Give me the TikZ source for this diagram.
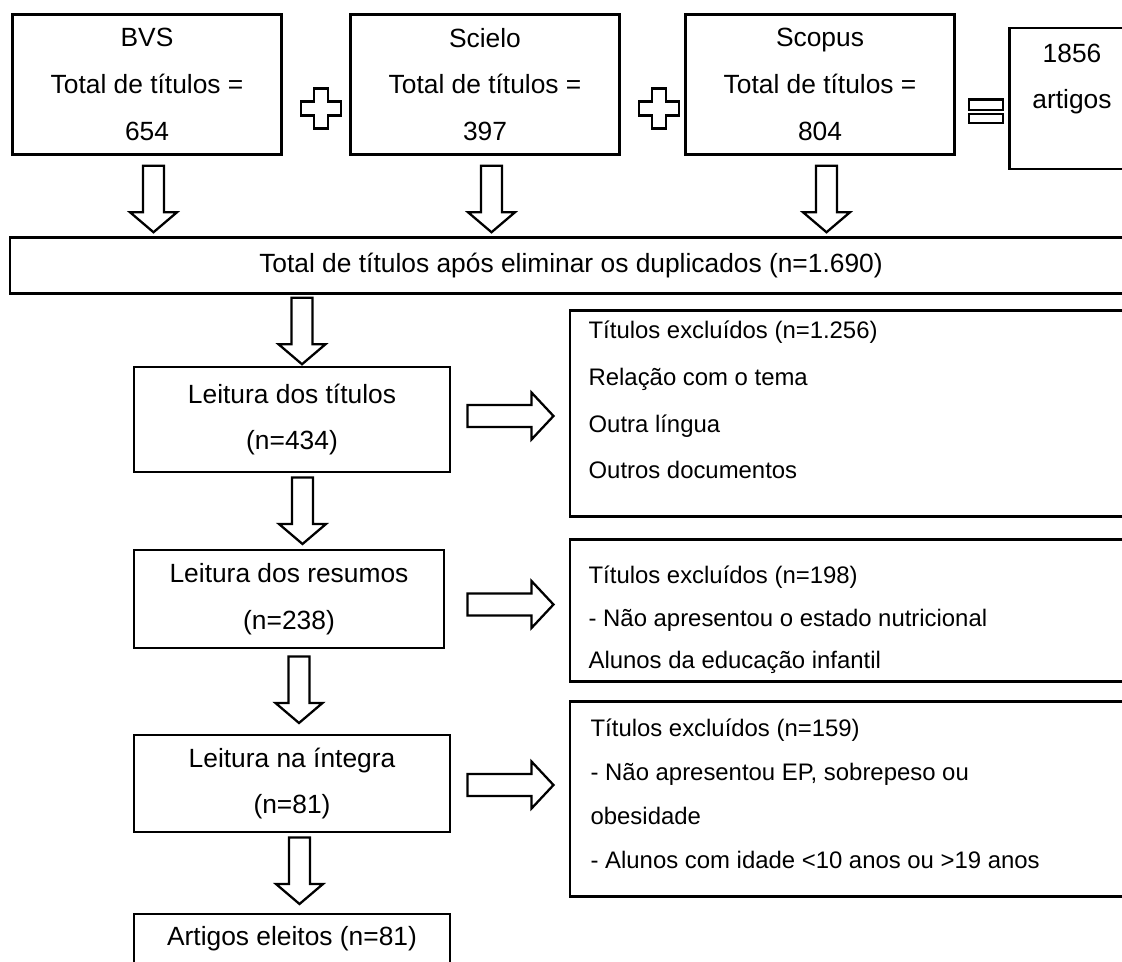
\documentclass[tikz,border=0pt]{standalone}
\usepackage{fontspec}
\setmainfont{Liberation Sans}
\usetikzlibrary{calc}
\tikzset{
  box/.style={draw, line width=1.4pt, align=center, inner sep=0pt, font=\fontsize{15}{26.7}\selectfont},
  fonte/.style={box, minimum width=5.38cm, minimum height=2.80cm},
  etapa/.style={box, minimum height=2.0cm},
  exclusao/.style={draw, line width=1.4pt, inner sep=0pt, minimum width=11.6cm},
  txt/.style={align=left, inner sep=0pt, anchor=north west},
  blk/.style={draw, line width=1.3pt, line join=miter, fill=white},
}
% seta larga para baixo e para a direita
\newcommand{\dnblk}[1]{\draw[blk] #1 ++(-0.21,0) -- ++(0,-0.93) -- ++(-0.26,0) -- ++(0.47,-0.40) -- ++(0.47,0.40) -- ++(-0.26,0) -- ++(0,0.93) -- cycle;}
\newcommand{\rtblk}[1]{\draw[blk] #1 ++(0,0.22) -- ++(1.28,0) -- ++(0,0.25) -- ++(0.44,-0.47) -- ++(-0.44,-0.47) -- ++(0,0.25) -- ++(-1.28,0) -- cycle;}
\newcommand{\maisblk}[1]{\draw[blk] #1 ++(-0.14,0.40) -- ++(0.28,0) -- ++(0,-0.26) -- ++(0.26,0) -- ++(0,-0.28) -- ++(-0.26,0) -- ++(0,-0.26) -- ++(-0.28,0) -- ++(0,0.26) -- ++(-0.26,0) -- ++(0,0.28) -- ++(0.26,0) -- cycle;}
\begin{document}
\begin{tikzpicture}
\useasboundingbox (0,0) rectangle (22.44,-19.22);
\clip (0,0) rectangle (22.44,-19.22);

% bases de dados
\node[fonte] (bvs) at (2.94,-1.69) {BVS\\Total de títulos =\\654};
\node[fonte] (scielo) at (9.70,-1.69) {Scielo\\Total de títulos =\\397};
\node[fonte] (scopus) at (16.40,-1.69) {Scopus\\Total de títulos =\\804};
\node[box, minimum width=2.50cm, minimum height=2.83cm] (soma) at (21.44,-1.97) {};
\node[box, draw=none] (somat) at ($(soma.center)+(0,0.39)$) {1856\\artigos};

\coordinate (mais1) at (6.42,-2.17);
\coordinate (mais2) at (13.18,-2.17);
\maisblk{(mais1)}
\maisblk{(mais2)}
\draw[blk] (19.38,-1.99) rectangle (20.06,-2.20);
\draw[blk] (19.38,-2.28) rectangle (20.06,-2.46);

\node[box, minimum width=22.45cm, minimum height=1.12cm] (total) at (11.42,-5.31) {Total de títulos após eliminar os duplicados (n=1.690)};

\dnblk{([xshift=0.13cm,yshift=-0.2cm]bvs.south)}
\dnblk{([xshift=0.13cm,yshift=-0.2cm]scielo.south)}
\dnblk{([xshift=0.13cm,yshift=-0.2cm]scopus.south)}

% etapas
\node[etapa, minimum width=6.33cm, minimum height=2.11cm] (titulos) at (5.84,-8.39) {Leitura dos títulos\\(n=434)};
\node[etapa, minimum width=6.21cm, minimum height=1.97cm] (resumos) at (5.78,-11.98) {Leitura dos resumos\\(n=238)};
\node[etapa, minimum width=6.33cm, minimum height=1.95cm] (integra) at (5.84,-15.67) {Leitura na íntegra\\(n=81)};
\node[etapa, minimum width=6.33cm, minimum height=1.95cm, anchor=north] (eleitos) at (5.84,-18.25) {};
\node[box, draw=none] (eleitost) at (5.84,-18.78) {Artigos eleitos (n=81)};

\dnblk{([xshift=0.2cm,yshift=-0.06cm]total.south -| titulos.south)}
\dnblk{([xshift=0.21cm,yshift=-0.08cm]titulos.south)}
\dnblk{([xshift=0.2cm,yshift=-0.14cm]resumos.south)}
\dnblk{([xshift=0.15cm,yshift=-0.08cm]integra.south)}

% exclusoes
\node[exclusao, minimum height=4.12cm] (exc1) at (17.2,-8.27) {};
\node[exclusao, minimum height=2.84cm] (exc2) at (17.2,-12.21) {};
\node[exclusao, minimum height=3.90cm] (exc3) at (17.2,-15.98) {};

\node[txt, font=\fontsize{13.6}{26.7}\selectfont] (exc1t) at ($(exc1.north west)+(0.39,-0.22)$)
  {Títulos excluídos (n=1.256)\\Relação com o tema\\Outra língua\\Outros documentos};
\node[txt, font=\fontsize{13.6}{24.4}\selectfont] (exc2t) at ($(exc2.north west)+(0.39,-0.54)$)
  {Títulos excluídos (n=198)\\- Não apresentou o estado nutricional\\Alunos da educação infantil};
\node[txt, font=\fontsize{13.6}{25}\selectfont] (exc3t) at ($(exc3.north west)+(0.43,-0.36)$)
  {Títulos excluídos (n=159)\\- Não apresentou EP, sobrepeso ou\\obesidade\\- Alunos com idade <10 anos ou >19 anos};

\rtblk{([xshift=0.32cm,yshift=0.07cm]titulos.east)}
\rtblk{([xshift=0.44cm,yshift=-0.11cm]resumos.east)}
\rtblk{([xshift=0.32cm,yshift=-0.03cm]integra.east)}
\end{tikzpicture}
\end{document}
